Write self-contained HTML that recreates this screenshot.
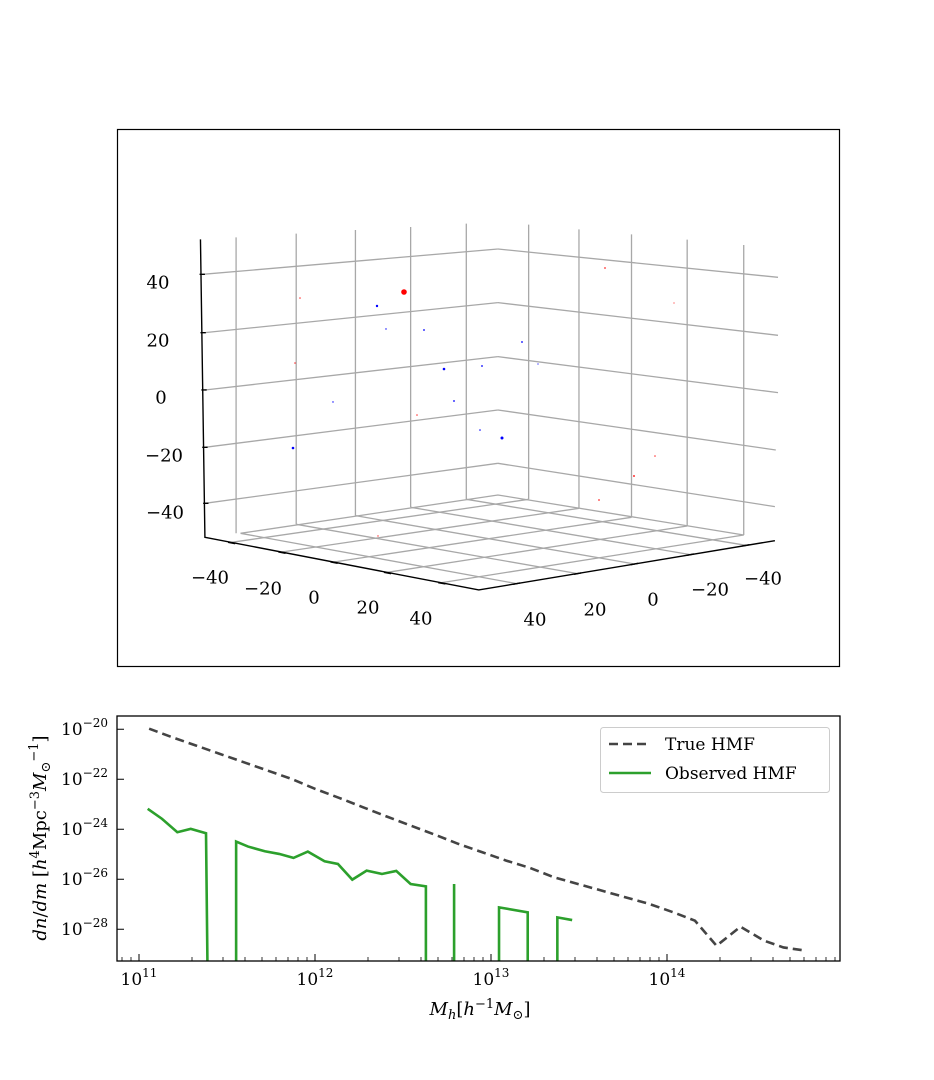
<!DOCTYPE html>
<html><head><meta charset="utf-8"><style>
html,body{margin:0;padding:0;background:#fff;}
svg{display:block;font-family:"DejaVu Serif","Liberation Serif",serif;}
</style></head><body>
<svg width="934" height="1080" viewBox="0 0 934 1080" xmlns="http://www.w3.org/2000/svg">
<rect x="0" y="0" width="934" height="1080" fill="#fff"/>
<rect x="117.5" y="129.5" width="722" height="537" fill="none" stroke="#000" stroke-width="1.2"/>
<g transform="translate(111.4,230) scale(0.4453,0.3333)" fill="none">
 <g stroke="#a8a8a8" stroke-width="1.3">
  <path vector-effect="non-scaling-stroke" d="M280 22V910 M415 11V883 M548 0V857 M672 -9V832 M797 -19V808"/>
  <path vector-effect="non-scaling-stroke" d="M937 -16V808 M1050 -2V835 M1168 13V862 M1293 29V888 M1420 45V915"/>
  <path vector-effect="non-scaling-stroke" d="M205 133L868 57 M210 308L868 218 M210 480L868 380 M210 652L868 540 M210 820L868 700"/>
  <path vector-effect="non-scaling-stroke" d="M868 57L1497 142 M868 218L1497 316 M868 380L1497 488 M868 540L1492 660 M868 700L1490 830"/>
  <path vector-effect="non-scaling-stroke" d="M290 910L910 1061 M415 883L1047 1031 M548 857L1175 1002 M672 832L1300 974 M797 808L1425 946"/>
  <path vector-effect="non-scaling-stroke" d="M937 808L270 937 M1050 835L383 966 M1168 862L500 996 M1293 888L620 1027 M1420 915L742 1058"/>
  <path vector-effect="non-scaling-stroke" d="M290 910L868 795L1420 915"/>
 </g>
 <g stroke="#000" stroke-width="1.4">
  <path vector-effect="non-scaling-stroke" d="M200 28L210 922L825 1080L1490 932"/>
  <path vector-effect="non-scaling-stroke" d="M198 133H210 M200 308H212 M202 480H214 M204 652H216 M206 820H218"/>
  <path vector-effect="non-scaling-stroke" d="M262 937L278 941 M375 966L391 970 M492 996L508 1000 M612 1027L628 1031 M734 1058L750 1062"/>
  <path vector-effect="non-scaling-stroke" d="M902 1063L918 1059 M1039 1033L1055 1029 M1167 1004L1183 1000 M1292 976L1308 972 M1417 948L1433 944"/>
 </g>
</g>
<g>
 <circle cx="404" cy="292" r="2.8" fill="#f00"/>
 <g fill="#00f">
  <circle cx="377" cy="306" r="1.2"/><circle cx="444" cy="369" r="1.3"/><circle cx="293" cy="448" r="1.3"/>
  <circle cx="502" cy="438" r="1.5"/><circle cx="522" cy="342" r="0.9"/><circle cx="482" cy="366" r="0.9"/>
  <circle cx="454" cy="401" r="0.9"/><circle cx="480" cy="430" r="0.8"/><circle cx="424" cy="330" r="0.9"/>
  <circle cx="386" cy="329" r="0.7"/><circle cx="333" cy="402" r="0.7"/><circle cx="538" cy="364" r="0.6"/>
 </g>
 <g fill="#f33">
  <circle cx="605" cy="268" r="0.9"/><circle cx="634" cy="476" r="1"/><circle cx="599" cy="500" r="0.9"/>
  <circle cx="655" cy="456" r="0.8"/><circle cx="300" cy="298" r="0.8"/><circle cx="295" cy="363" r="0.8"/>
  <circle cx="417" cy="415" r="0.8"/><circle cx="378" cy="536" r="0.7"/><circle cx="674" cy="303" r="0.6"/>
 </g>
</g>
<g font-size="18" fill="#000" text-anchor="middle" dominant-baseline="central">
 <text x="158" y="283">40</text><text x="158" y="341">20</text><text x="161" y="398">0</text>
 <text x="164" y="456">−20</text><text x="165" y="513">−40</text>
 <text x="210" y="578">−40</text><text x="263" y="589">−20</text><text x="314" y="598">0</text>
 <text x="368" y="608">20</text><text x="421" y="619">40</text>
 <text x="535" y="620">40</text><text x="595" y="610">20</text><text x="653" y="600">0</text>
 <text x="710" y="590">−20</text><text x="763" y="579">−40</text>
</g>
<defs><clipPath id="cb"><rect x="117" y="716" width="723" height="245"/></clipPath></defs>
<g clip-path="url(#cb)">
<g transform="translate(99.9,710.3) scale(0.478,0.334)" fill="none">
 <polyline vector-effect="non-scaling-stroke" stroke="#444" stroke-width="2.6" stroke-dasharray="9,5" points="103,55 150,80 200,105 250,130 300,155 350,180 400,205 450,235 500,262 550,290 600,318 650,345 700,372 750,400 800,425 850,450 900,472 950,500 1000,520 1050,540 1100,560 1150,580 1200,605 1245,630 1290,705 1340,648 1390,690 1430,710 1478,720"/>
 <g stroke="#2ca02c" stroke-width="2.6">
  <polyline vector-effect="non-scaling-stroke" points="100,295 130,325 162,365 190,355 222,368 225,760"/>
  <polyline vector-effect="non-scaling-stroke" points="285,760 285,393 310,408 345,422 375,430 405,442 435,423 470,452 498,460 528,507 558,480 590,490 620,481 650,520 682,527 682,760"/>
  <polyline vector-effect="non-scaling-stroke" points="741,760 741,520"/>
  <polyline vector-effect="non-scaling-stroke" points="835,760 835,590 895,605 895,760"/>
  <polyline vector-effect="non-scaling-stroke" points="957,760 957,620 988,628"/>
 </g>
</g>
</g>
<rect x="117" y="716" width="723" height="245" fill="none" stroke="#000" stroke-width="1.3"/>
<g stroke="#000" stroke-width="1">
 <path d="M139 961v-7 M315 961v-7 M491 961v-7 M667 961v-7"/>
 <path stroke-width="0.8" d="M122 961v-4 M131 961v-4
  M192 961v-4 M223 961v-4 M245 961v-4 M262 961v-4 M276 961v-4 M288 961v-4 M298 961v-4 M307 961v-4
  M368 961v-4 M399 961v-4 M421 961v-4 M438 961v-4 M452 961v-4 M464 961v-4 M474 961v-4 M483 961v-4
  M544 961v-4 M575 961v-4 M597 961v-4 M614 961v-4 M628 961v-4 M640 961v-4 M650 961v-4 M659 961v-4
  M720 961v-4 M751 961v-4 M773 961v-4 M790 961v-4 M804 961v-4 M816 961v-4 M826 961v-4 M835 961v-4"/>
 <path d="M117 729.3h7 M117 779.3h7 M117 829.3h7 M117 879.3h7 M117 929.3h7"/>
</g>
<g font-size="17" fill="#000">
 <g text-anchor="end">
  <text x="108" y="735">10<tspan font-size="12" dy="-8">−20</tspan></text>
  <text x="108" y="785">10<tspan font-size="12" dy="-8">−22</tspan></text>
  <text x="108" y="835">10<tspan font-size="12" dy="-8">−24</tspan></text>
  <text x="108" y="885">10<tspan font-size="12" dy="-8">−26</tspan></text>
  <text x="108" y="935">10<tspan font-size="12" dy="-8">−28</tspan></text>
 </g>
 <g text-anchor="middle">
  <text x="139" y="985">10<tspan font-size="12" dy="-8">11</tspan></text>
  <text x="315" y="985">10<tspan font-size="12" dy="-8">12</tspan></text>
  <text x="491" y="985">10<tspan font-size="12" dy="-8">13</tspan></text>
  <text x="667" y="985">10<tspan font-size="12" dy="-8">14</tspan></text>
 </g>
 <text x="480" y="1015" text-anchor="middle" font-size="18"><tspan font-style="italic">M</tspan><tspan font-size="13" dy="4" font-style="italic">h</tspan><tspan dy="-4">[</tspan><tspan font-style="italic">h</tspan><tspan font-size="13" dy="-7">−1</tspan><tspan dy="7" font-style="italic">M</tspan><tspan font-size="13" dy="4">⊙</tspan><tspan dy="-4">]</tspan></text>
 <text transform="translate(46,838) rotate(-90)" text-anchor="middle" font-size="18"><tspan font-style="italic">dn</tspan>/<tspan font-style="italic">dm</tspan> [<tspan font-style="italic">h</tspan><tspan font-size="13" dy="-7">4</tspan><tspan dy="7">Mpc</tspan><tspan font-size="13" dy="-7">−3</tspan><tspan dy="7" font-style="italic">M</tspan><tspan font-size="13" dy="4">⊙</tspan><tspan font-size="13" dy="-12">−1</tspan><tspan dy="8">]</tspan></text>
</g>
<rect x="600.5" y="727.5" width="229" height="65" rx="3" fill="#fff" fill-opacity="0.8" stroke="#ccc" stroke-width="1"/>
<line x1="609" y1="744" x2="651" y2="744" stroke="#444" stroke-width="2.6" stroke-dasharray="9,5"/>
<line x1="609" y1="773" x2="651" y2="773" stroke="#2ca02c" stroke-width="2.6"/>
<g font-size="17" fill="#000">
 <text x="665" y="750">True HMF</text>
 <text x="665" y="779">Observed HMF</text>
</g>
</svg>
</body></html>
